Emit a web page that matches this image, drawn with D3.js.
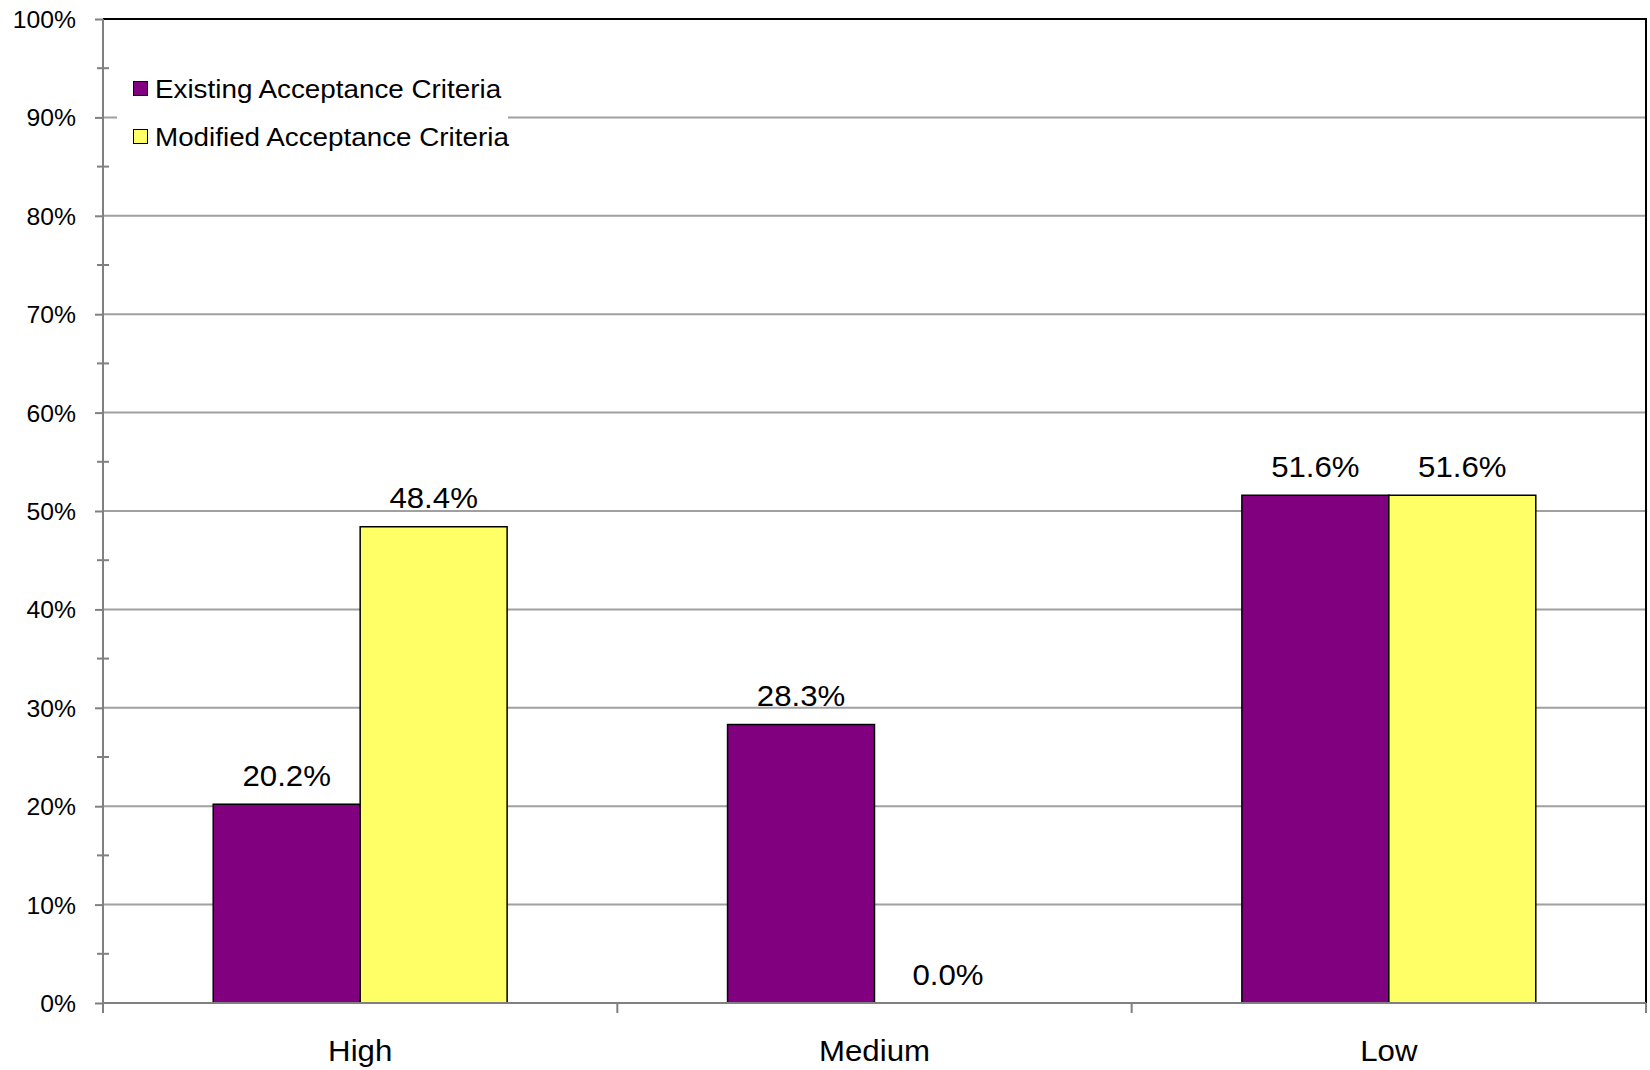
<!DOCTYPE html>
<html>
<head>
<meta charset="utf-8">
<script src="https://cdn.jsdelivr.net/npm/d3@7"></script>
<style>
  html, body { margin: 0; padding: 0; background: #fff; }
  svg { display: block; }
  text { font-family: "Liberation Sans", Arial, sans-serif; fill: #000; }
</style>
</head>
<body>
<svg id="chart" width="1650" height="1070"></svg>
<script>
// Acceptance category shares under the existing and modified criteria
const categories = ["High", "Medium", "Low"];
const seriesNames = ["Existing Acceptance Criteria", "Modified Acceptance Criteria"];
const existingValues = [0.202, 0.283, 0.516];
const modifiedValues = [0.484, 0.000, 0.516];
const yTickValues = [0, 0.1, 0.2, 0.3, 0.4, 0.5, 0.6, 0.7, 0.8, 0.9, 1.0];
const yMinorTickValues = [0.05, 0.15, 0.25, 0.35, 0.45, 0.55, 0.65, 0.75, 0.85, 0.95];

const seriesColors = ["#800080", "#FFFF66"];
const seriesValues = [existingValues, modifiedValues];

const plot = { left: 103, right: 1646, top: 19, bottom: 1003 };

const svg = d3.select("#chart");

const y = d3.scaleLinear().domain([0, 1]).range([plot.bottom, plot.top]);
const x0 = d3.scaleBand().domain(categories).range([plot.left, plot.right]).padding(0);
const x1 = d3.scaleBand().domain(d3.range(seriesNames.length))
  .range([0, x0.bandwidth()]).paddingInner(0).paddingOuter(0.75);

const pct1 = d3.format(".1%");

// Places a text element with a slight horizontal widening around its anchor point
function placeText(sel, px, py, sx) {
  return sel.attr("transform", `translate(${px},${py}) scale(${sx},1)`);
}

// Horizontal gridlines
svg.append("g")
  .selectAll("line")
  .data(yTickValues.filter(v => v > 0))
  .join("line")
  .attr("x1", plot.left).attr("x2", plot.right)
  .attr("y1", d => y(d)).attr("y2", d => y(d))
  .attr("stroke", "#a0a0a0").attr("stroke-width", 2);

// Bars
const groups = svg.append("g")
  .selectAll("g")
  .data(categories)
  .join("g")
  .attr("transform", d => `translate(${x0(d)},0)`);

groups.selectAll("rect")
  .data((c, ci) => seriesValues.map((vals, si) => ({ si, v: vals[ci] })))
  .join("rect")
  .filter(d => d.v > 0)
  .attr("x", d => x1(d.si))
  .attr("width", x1.bandwidth())
  .attr("y", d => y(d.v))
  .attr("height", d => y(0) - y(d.v))
  .attr("fill", d => seriesColors[d.si])
  .attr("stroke", "#000")
  .attr("stroke-width", 1.5);

// Value labels above the bars
groups.selectAll("text.value")
  .data((c, ci) => seriesValues.map((vals, si) => ({ si, v: vals[ci] })))
  .join("text")
  .attr("class", "value")
  .attr("text-anchor", "middle")
  .style("font-size", "30px")
  .each(function (d) {
    placeText(d3.select(this), x1(d.si) + x1.bandwidth() / 2, y(d.v) - 18.5, 1.04);
  })
  .text(d => pct1(d.v));

// Top and right frame of the plot area
svg.append("path")
  .attr("d", `M${plot.left},${plot.top}H${plot.right}V${plot.bottom}`)
  .attr("fill", "none").attr("stroke", "#000").attr("stroke-width", 2);

// Y axis
const yAxis = d3.axisLeft(y)
  .tickValues(yTickValues)
  .tickFormat(d3.format(".0%"))
  .tickSize(8)
  .tickSizeOuter(0);

const yg = svg.append("g")
  .attr("transform", `translate(${plot.left},0)`)
  .call(yAxis);
yg.select(".domain").attr("stroke", "#808080").attr("stroke-width", 2)
  .attr("d", `M0,${plot.top}V${plot.bottom + 10}`);
yg.selectAll(".tick line").attr("stroke", "#808080").attr("stroke-width", 2);
yg.selectAll(".tick text")
  .attr("x", null).attr("dy", null)
  .attr("text-anchor", "end")
  .style("font-size", "24px")
  .attr("font-family", null)
  .each(function () {
    placeText(d3.select(this), -27, 8.5, 1.03);
  });

// Minor ticks crossing the y axis
svg.append("g")
  .selectAll("line")
  .data(yMinorTickValues)
  .join("line")
  .attr("x1", plot.left - 6).attr("x2", plot.left + 6)
  .attr("y1", d => y(d)).attr("y2", d => y(d))
  .attr("stroke", "#808080").attr("stroke-width", 2);

// X axis line with ticks at category boundaries
svg.append("line")
  .attr("x1", plot.left).attr("x2", plot.right)
  .attr("y1", plot.bottom).attr("y2", plot.bottom)
  .attr("stroke", "#808080").attr("stroke-width", 2);

const boundaries = categories.map(c => x0(c)).concat([x0(categories[categories.length - 1]) + x0.bandwidth()]);
svg.append("g")
  .selectAll("line")
  .data(boundaries)
  .join("line")
  .attr("x1", d => d).attr("x2", d => d)
  .attr("y1", plot.bottom).attr("y2", plot.bottom + 10)
  .attr("stroke", "#808080").attr("stroke-width", 2);

// Category labels
svg.append("g")
  .selectAll("text")
  .data(categories)
  .join("text")
  .attr("text-anchor", "middle")
  .style("font-size", "30px")
  .each(function (d) {
    placeText(d3.select(this), x0(d) + x0.bandwidth() / 2, 1061, 1.04);
  })
  .text(d => d);

// Legend
const legend = svg.append("g");
legend.append("rect")
  .attr("x", 117).attr("y", 62).attr("width", 391).attr("height", 104)
  .attr("fill", "#fff");

const legendRows = legend.selectAll("g.row")
  .data(seriesNames)
  .join("g")
  .attr("class", "row")
  .attr("transform", (d, i) => `translate(133,${97.5 + i * 48})`);

legendRows.append("rect")
  .attr("x", 0.5).attr("y", -16)
  .attr("width", 14).attr("height", 14)
  .attr("fill", (d, i) => seriesColors[i])
  .attr("stroke", "#000").attr("stroke-width", 1);

legendRows.append("text")
  .style("font-size", "26px")
  .each(function () {
    placeText(d3.select(this), 22, 0, 1.07);
  })
  .text(d => d);
</script>
</body>
</html>
